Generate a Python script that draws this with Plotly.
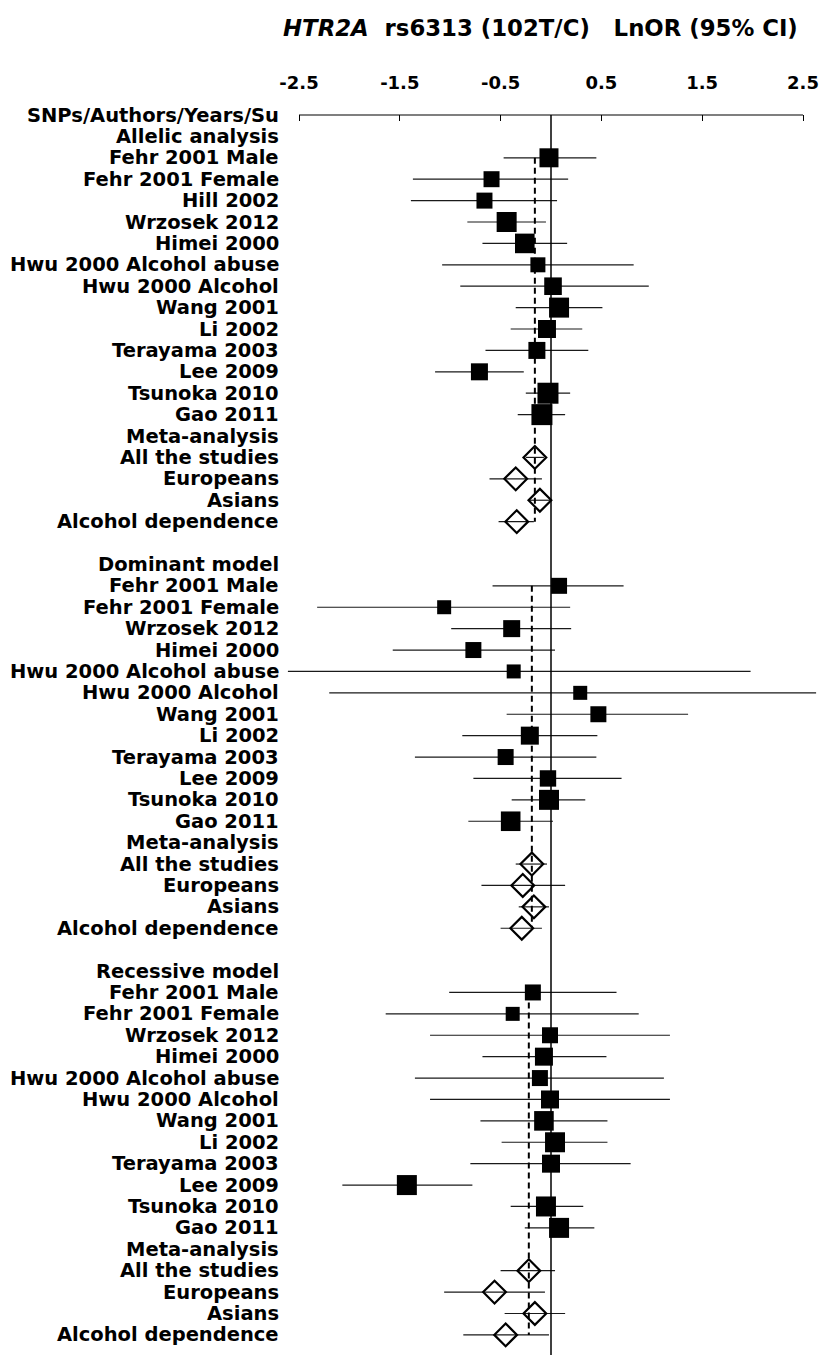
import plotly.graph_objects as go

# ---------------- data: ln(OR) with 95% CI ----------------
header = "SNPs/Authors/Years/Su"
meta_title = "Meta-analysis"
meta_labels = ["All the studies", "Europeans", "Asians", "Alcohol dependence"]

allelic_studies = ["Fehr 2001 Male", "Fehr 2001 Female", "Hill 2002", "Wrzosek 2012",
                   "Himei 2000", "Hwu 2000 Alcohol abuse", "Hwu 2000 Alcohol", "Wang 2001",
                   "Li 2002", "Terayama 2003", "Lee 2009", "Tsunoka 2010", "Gao 2011"]
allelic_lnor = [-0.02, -0.59, -0.66, -0.44, -0.26, -0.13, 0.02, 0.08, -0.04, -0.14, -0.71, -0.03, -0.09]
allelic_lo = [-0.47, -1.37, -1.39, -0.83, -0.68, -1.08, -0.90, -0.35, -0.40, -0.65, -1.15, -0.25, -0.33]
allelic_hi = [0.45, 0.17, 0.06, -0.05, 0.16, 0.82, 0.97, 0.51, 0.31, 0.37, -0.27, 0.19, 0.14]
allelic_weight = [0.95, 0.80, 0.80, 1.00, 0.98, 0.75, 0.88, 1.00, 0.90, 0.85, 0.85, 1.05, 1.05]
allelic_meta_lnor = [-0.16, -0.35, -0.11, -0.34]
allelic_meta_lo = [-0.25, -0.61, -0.22, -0.52]
allelic_meta_hi = [-0.07, -0.09, 0.01, -0.17]

model_studies = ["Fehr 2001 Male", "Fehr 2001 Female", "Wrzosek 2012", "Himei 2000",
                 "Hwu 2000 Alcohol abuse", "Hwu 2000 Alcohol", "Wang 2001", "Li 2002",
                 "Terayama 2003", "Lee 2009", "Tsunoka 2010", "Gao 2011"]

dominant_lnor = [0.08, -1.06, -0.39, -0.77, -0.37, 0.29, 0.47, -0.21, -0.45, -0.03, -0.02, -0.40]
dominant_lo = [-0.58, -2.32, -0.99, -1.57, -2.61, -2.20, -0.44, -0.88, -1.35, -0.77, -0.39, -0.82]
dominant_hi = [0.72, 0.19, 0.20, 0.04, 1.98, 2.63, 1.36, 0.46, 0.45, 0.70, 0.34, 0.02]
dominant_weight = [0.80, 0.70, 0.85, 0.80, 0.70, 0.70, 0.80, 0.90, 0.80, 0.82, 1.00, 0.98]
dominant_meta_lnor = [-0.19, -0.28, -0.17, -0.29]
dominant_meta_lo = [-0.35, -0.69, -0.32, -0.50]
dominant_meta_hi = [-0.04, 0.14, -0.02, -0.09]

recessive_lnor = [-0.18, -0.38, -0.01, -0.07, -0.11, -0.01, -0.07, 0.04, 0.00, -1.43, -0.05, 0.08]
recessive_lo = [-1.01, -1.64, -1.20, -0.68, -1.35, -1.20, -0.70, -0.49, -0.80, -2.07, -0.40, -0.26]
recessive_hi = [0.65, 0.87, 1.18, 0.55, 1.12, 1.18, 0.56, 0.56, 0.79, -0.78, 0.32, 0.43]
recessive_weight = [0.80, 0.70, 0.80, 0.90, 0.80, 0.90, 0.98, 1.00, 0.90, 1.00, 1.00, 1.00]
recessive_meta_lnor = [-0.22, -0.56, -0.16, -0.45]
recessive_meta_lo = [-0.50, -1.06, -0.46, -0.87]
recessive_meta_hi = [0.04, -0.06, 0.14, -0.02]

tick_values = [-2.5, -1.5, -0.5, 0.5, 1.5, 2.5]
tick_labels = ["-2.5", "-1.5", "-0.5", "0.5", "1.5", "2.5"]

sections = [
    ("Allelic analysis", allelic_studies, allelic_lnor, allelic_lo, allelic_hi, allelic_weight,
     allelic_meta_lnor, allelic_meta_lo, allelic_meta_hi),
    ("Dominant model", model_studies, dominant_lnor, dominant_lo, dominant_hi, dominant_weight,
     dominant_meta_lnor, dominant_meta_lo, dominant_meta_hi),
    ("Recessive model", model_studies, recessive_lnor, recessive_lo, recessive_hi, recessive_weight,
     recessive_meta_lnor, recessive_meta_lo, recessive_meta_hi),
]

# ---------------- row layout ----------------
FONT = "DejaVu Sans"
labels = [(0, header)]
ci_x, ci_y = [], []
sq_x, sq_y, sq_size = [], [], []
dm_x, dm_y = [], []
dash_x, dash_y = [], []

row = 0
for i, (title, studies, est, lo, hi, wt, m_est, m_lo, m_hi) in enumerate(sections):
    if i > 0:
        row += 1  # blank spacer row
    row += 1
    labels.append((row, title))
    first_row = row + 1
    for name, e, l, h, w in zip(studies, est, lo, hi, wt):
        row += 1
        labels.append((row, name))
        ci_x += [l, h, None]
        ci_y += [row, row, None]
        sq_x.append(e)
        sq_y.append(row)
        sq_size.append(20 * w)
    row += 1
    labels.append((row, meta_title))
    for name, e, l, h in zip(meta_labels, m_est, m_lo, m_hi):
        row += 1
        labels.append((row, name))
        ci_x += [l, h, None]
        ci_y += [row, row, None]
        dm_x.append(e)
        dm_y.append(row)
    # pooled estimate reference line
    dash_x += [m_est[0], m_est[0], None]
    dash_y += [first_row, row, None]

n_rows = row

fig = go.Figure()
fig.add_trace(go.Scatter(x=ci_x, y=ci_y, mode="lines",
                         line=dict(color="#1a1a1a", width=1.2), hoverinfo="skip",
                         showlegend=False))
fig.add_trace(go.Scatter(x=dash_x, y=dash_y, mode="lines",
                         line=dict(color="black", width=2, dash="6px,4px"),
                         hoverinfo="skip", showlegend=False))
fig.add_trace(go.Scatter(x=sq_x, y=sq_y, mode="markers",
                         marker=dict(symbol="square", size=sq_size, color="black",
                                     opacity=1, line=dict(width=0)),
                         cliponaxis=False, showlegend=False))
fig.add_trace(go.Scatter(x=dm_x, y=dm_y, mode="markers",
                         marker=dict(symbol="diamond-open", size=17.5, color="black",
                                     opacity=1, line=dict(width=2.2, color="black")),
                         cliponaxis=False, showlegend=False))

# axis baseline spanning the tick range, and the null-effect line
fig.add_shape(type="line", xref="x", yref="paper", x0=tick_values[0], x1=tick_values[-1],
              y0=1, y1=1, line=dict(color="black", width=1.2))
fig.add_shape(type="line", xref="x", yref="paper", x0=0, x1=0, y0=0, y1=1,
              line=dict(color="black", width=1.5))

for r, text in labels:
    fig.add_annotation(x=0, xref="paper", y=r, yref="y", text=text, showarrow=False,
                       xanchor="right", yanchor="middle", xshift=-5,
                       font=dict(family=FONT, size=19.5, color="black", weight="bold"))

fig.add_annotation(x=1, xref="paper", y=1, yref="paper", xanchor="right", yanchor="middle",
                   xshift=-19, yshift=87, showarrow=False,
                   text="<i>HTR2A</i>\u00a0 rs6313 (102T/C)\u00a0\u00a0 LnOR (95% CI)",
                   font=dict(family=FONT, size=22.8, color="black", weight="bold"))

px_per_unit = 100.8
fig.update_layout(
    width=819, height=1355,
    margin=dict(l=286, r=0, t=115, b=0),
    paper_bgcolor="white", plot_bgcolor="white",
    xaxis=dict(range=[-2.5 - 13 / px_per_unit, 2.5 + 16 / px_per_unit], side="top",
               tickvals=tick_values, ticktext=tick_labels,
               ticks="inside", ticklen=6, tickwidth=1.2, tickcolor="black",
               ticklabelstandoff=21, ticklabeloverflow="allow",
               tickfont=dict(family=FONT, size=18, color="black", weight="bold"),
               showgrid=False, zeroline=False, showline=False, fixedrange=True),
    yaxis=dict(range=[n_rows + 0.94, 0], visible=False, fixedrange=True),
)

fig.write_html("out.html")
